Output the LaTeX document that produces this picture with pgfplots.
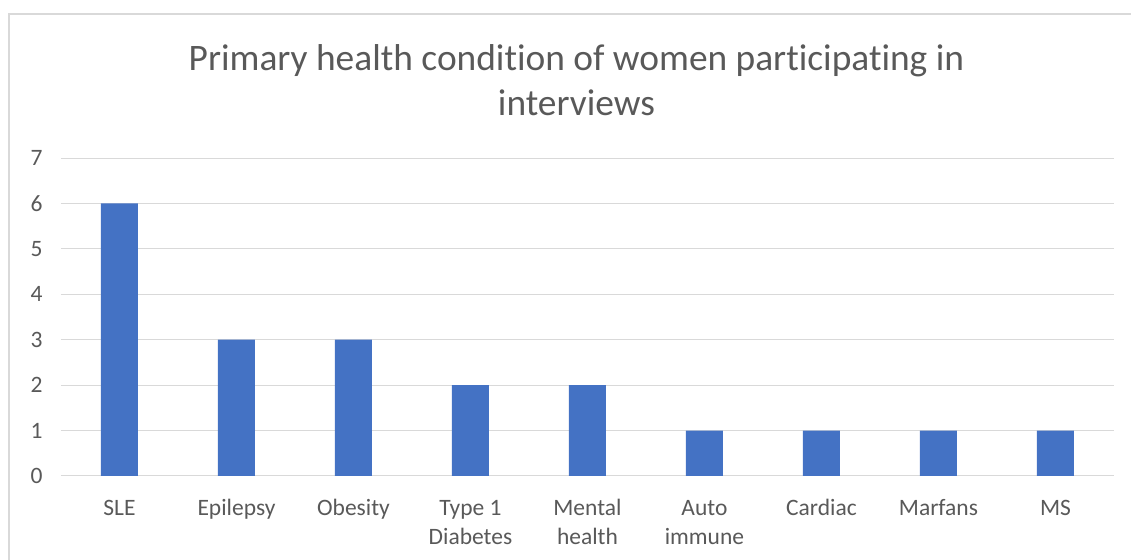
\documentclass[border=0pt]{standalone}
\usepackage{pgfplots}
\pgfplotsset{compat=1.18}
\usepackage{fontspec}
\setmainfont{Carlito}[Ligatures={NoCommon}]
\definecolor{barc}{HTML}{4472C4}
\definecolor{txt}{HTML}{595959}
\definecolor{gridc}{HTML}{D9D9D9}
\definecolor{framec}{HTML}{D9D9D9}
\begin{document}
\begin{tikzpicture}
\useasboundingbox (0,0) rectangle (1131bp,560bp);
\draw[framec, line width=1.2bp] (9bp,-2bp) -- (9bp,546bp) -- (1135bp,546bp);
\begin{axis}[
  at={(61bp,84bp)}, anchor=south west,
  scale only axis, width=1053bp, height=318bp,
  xmin=-0.5, xmax=8.5, ymin=0, ymax=7,
  ytick={0,1,2,3,4,5,6,7},
  xtick=data,
  xticklabels={{SLE\\\phantom{X}},{Epilepsy\\\phantom{X}},{Obesity\\\phantom{X}},{Type 1\\Diabetes},{Mental\\health},{Auto\\immune},{Cardiac\\\phantom{X}},{Marfans\\\phantom{X}},{MS\\\phantom{X}}},
  axis line style={draw=none},
  major tick length=0pt,
  ymajorgrids, xmajorgrids=false, grid style={draw=gridc, line width=1bp},
  /pgf/number format/assume math mode=true,
  yticklabel style={font=\fontsize{23.5bp}{28bp}\selectfont, text=txt, xshift=-15bp},
  xticklabel style={font=\fontsize{23.5bp}{29bp}\selectfont, text=txt, align=center, anchor=base, yshift=-68bp},
  title={Primary health condition of women participating in\\interviews},
  title style={at={(0.5,1)}, anchor=base, yshift=37bp, xshift=-11bp, align=center,
    font=\fontsize{37.4bp}{45bp}\selectfont, text=txt},
]
\addplot[ybar, bar width=37bp, fill=barc, draw=none] coordinates {
 (0,6) (1,3) (2,3) (3,2) (4,2) (5,1) (6,1) (7,1) (8,1)
};
\end{axis}
\end{tikzpicture}
\end{document}
